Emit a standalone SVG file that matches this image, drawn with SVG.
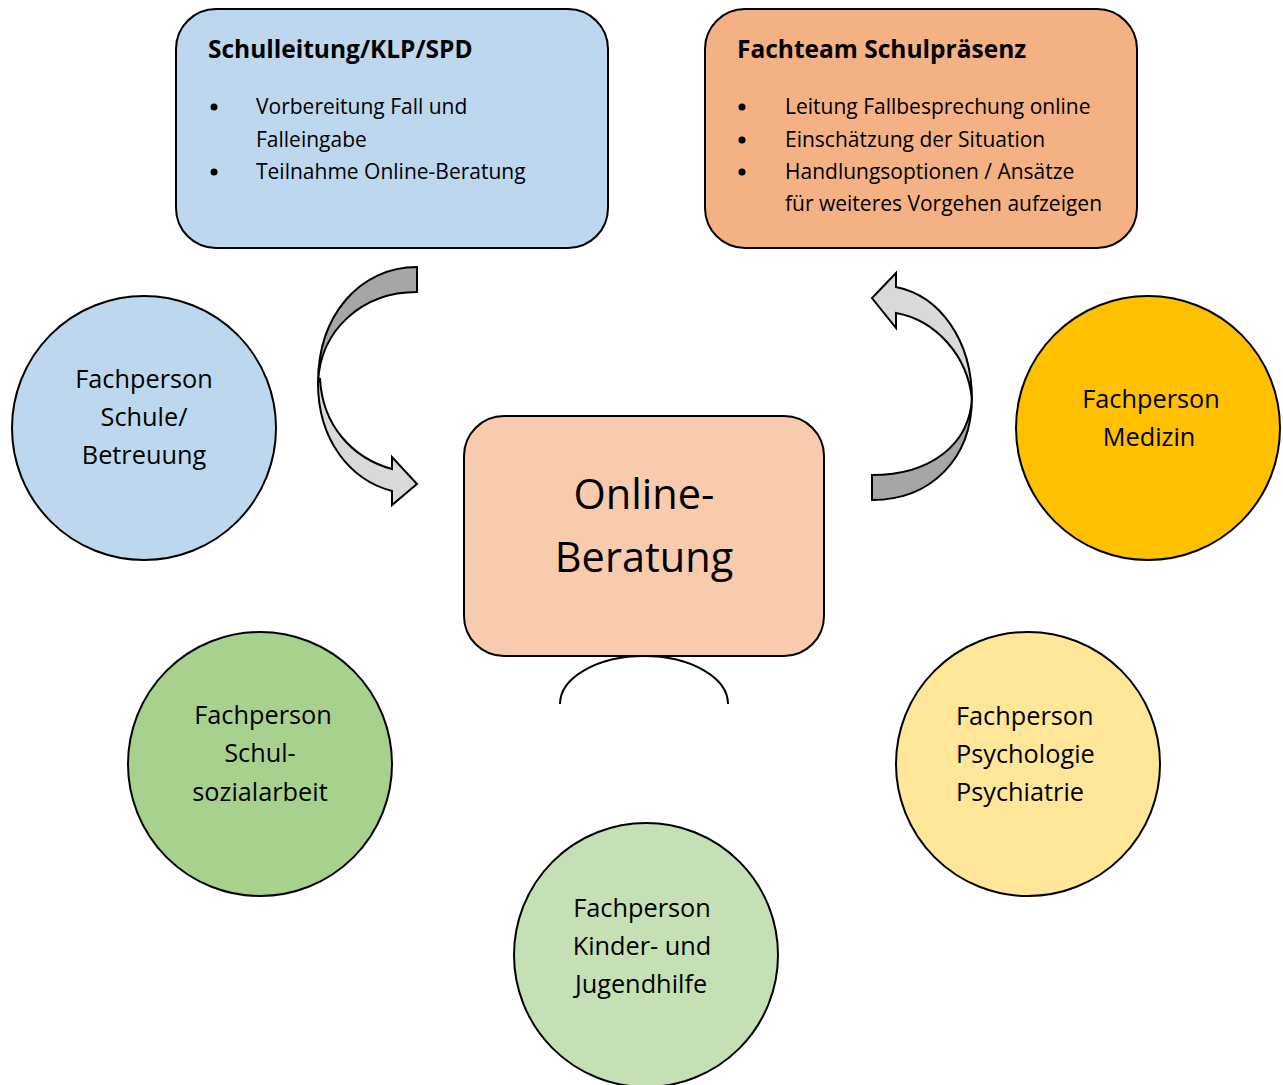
<svg xmlns="http://www.w3.org/2000/svg" width="1283" height="1085" viewBox="0 0 1283 1085">
<style>
  .box{stroke:#000;stroke-width:2}
  .circ{stroke:#000;stroke-width:2}
  .t{font-family:"Open Sans","Noto Sans","Liberation Sans",sans-serif;fill:#000}
  .h{font-size:24.5px;font-weight:bold}
  .b{font-size:21px}
  .c{font-size:25.3px;text-anchor:middle}
  .cl{font-size:25.3px}
  .big{font-size:41.5px;text-anchor:middle}
  .arr{stroke:#000;stroke-width:2;stroke-linejoin:miter}
</style>
<rect width="1283" height="1085" fill="#fff"/>
<g id="connectors">
  <path class="arr" fill="#D9D9D9" d="M318,383 C318,440 350,480 392,491 L392,505 L417,484 L392,457 L392,469 C352,458 322,425 320,378 Z"/>
  <path class="arr" fill="#A6A6A6" d="M417,267 L417,292 C362,292 320,330 318,383 C318,315 360,267 417,267 Z"/>
  <path class="arr" fill="#D9D9D9" d="M896,273 L872,298 L896,328 L896,313 C935,320 968,355 972,400 C972,340 940,296 896,287 Z"/>
  <path class="arr" fill="#A6A6A6" d="M872,500 C930,500 972,460 972,397 C970,445 930,475 872,475 Z"/>
  <path fill="none" stroke="#000" stroke-width="2" d="M560,704 A84,48 0 0 1 728,704"/>
</g>
<g id="schulleitung">
  <rect class="box" x="176" y="9" width="432" height="239" rx="40" fill="#BDD7EE"/>
  <text class="t h" x="208" y="58">Schulleitung/KLP/SPD</text>
  <circle cx="214" cy="107" r="3.5"/>
  <circle cx="214" cy="172" r="3.5"/>
  <text class="t b" x="256" y="114">Vorbereitung Fall und</text>
  <text class="t b" x="256" y="147">Falleingabe</text>
  <text class="t b" x="256" y="179">Teilnahme Online-Beratung</text>
</g>
<g id="fachteam">
  <rect class="box" x="705" y="9" width="432" height="239" rx="40" fill="#F4B183"/>
  <text class="t h" x="737" y="58">Fachteam Schulpräsenz</text>
  <circle cx="742" cy="107" r="3.5"/>
  <circle cx="742" cy="140" r="3.5"/>
  <circle cx="742" cy="172" r="3.5"/>
  <text class="t b" x="785" y="114">Leitung Fallbesprechung online</text>
  <text class="t b" x="785" y="147">Einschätzung der Situation</text>
  <text class="t b" x="785" y="179">Handlungsoptionen / Ansätze</text>
  <text class="t b" x="785" y="211">für weiteres Vorgehen aufzeigen</text>
</g>
<g id="online-beratung">
  <rect class="box" x="464" y="416" width="360" height="240" rx="40" fill="#F8CBAD"/>
  <text class="t big" x="644" y="509">Online-</text>
  <text class="t big" x="644" y="572">Beratung</text>
</g>
<g id="schule">
  <circle class="circ" cx="144" cy="428" r="132" fill="#BDD7EE"/>
  <text class="t c" x="144" y="388">Fachperson</text>
  <text class="t c" x="144" y="426">Schule/</text>
  <text class="t c" x="144" y="464">Betreuung</text>
</g>
<g id="medizin">
  <circle class="circ" cx="1148" cy="428" r="132" fill="#FFC000"/>
  <text class="t c" x="1151" y="408">Fachperson</text>
  <text class="t c" x="1149" y="446">Medizin</text>
</g>
<g id="schulsozialarbeit">
  <circle class="circ" cx="260" cy="764" r="132" fill="#A9D18E"/>
  <text class="t c" x="263" y="724">Fachperson</text>
  <text class="t c" x="260" y="762">Schul-</text>
  <text class="t c" x="260" y="801">sozialarbeit</text>
</g>
<g id="psychologie">
  <circle class="circ" cx="1028" cy="764" r="132" fill="#FFE699"/>
  <text class="t cl" x="956" y="725">Fachperson</text>
  <text class="t cl" x="956" y="763">Psychologie</text>
  <text class="t cl" x="956" y="801">Psychiatrie</text>
</g>
<g id="jugendhilfe">
  <circle class="circ" cx="646" cy="955" r="132" fill="#C5E0B4"/>
  <text class="t c" x="642" y="917">Fachperson</text>
  <text class="t c" x="642" y="955">Kinder- und</text>
  <text class="t c" x="641" y="993">Jugendhilfe</text>
</g>
</svg>
